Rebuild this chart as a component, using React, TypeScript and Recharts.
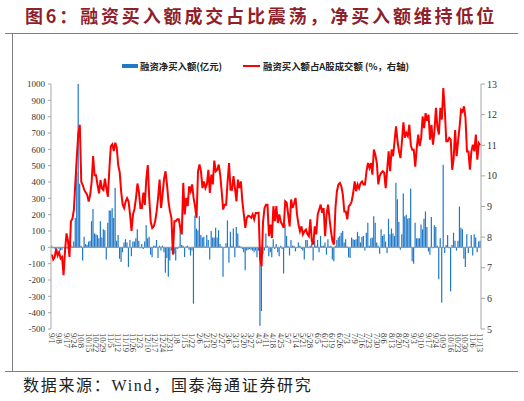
import React from 'react';
import { ComposedChart, Bar, Line, XAxis, YAxis, ReferenceLine } from 'recharts';

const tickLabels = [
  '9/1', '9/8', '9/17', '9/24', '10/8', '10/15', '10/22', '10/29', '11/5', '11/12',
  '11/19', '11/26', '12/3', '12/10', '12/17', '12/24', '12/31', '1/8', '1/15', '1/22',
  '2/6', '2/13', '2/20', '2/27', '3/6', '3/13', '3/20', '3/27', '4/3', '4/11',
  '4/18', '4/25', '5/7', '5/14', '5/21', '5/28', '6/5', '6/12', '6/19', '6/26',
  '7/3', '7/9', '7/16', '7/23', '7/30', '8/6', '8/13', '8/20', '8/27', '9/3',
  '9/10', '9/17', '9/24', '10/9', '10/16', '10/23', '10/30', '11/6', '11/13',
];

// 融资净买入额(亿元), daily
const netBuy = [
  10, -5, -8, -10, -5, -10, -20, -15, -5, -10,
  -5, -8, 5, 15, 5, 35, 180, 460, 1000, 390,
  10, -80, 65, 20, 15, 35, 40, 160, 235, 85,
  80, 75, 55, 160, 60, 110, 105, -75, 150, 225,
  225, 240, 180, 365, 40, 75, -70, -90, -30, 30,
  50, 30, -120, 45, -55, 35, 35, 55, 110, 40,
  -5, 20, -10, 35, 135, 55, 65, -45, -60, 10,
  10, 45, -65, 10, -20, 10, -30, -155, -65, -180,
  -80, -20, -20, -40, -80, -10, -5, 110, 15, 10,
  -60, 5, 10, -15, -50, -20, -345, 195, 115, 105,
  190, 75, 60, 65, 5, 75, 45, -75, 100, 60,
  60, 120, 60, 105, 20, 5, -180, -5, 25, 165,
  -95, 95, 10, 115, -60, 125, 85, 10, 5, -10,
  -30, -140, -20, -15, -10, -15, -20, -30, -20, -60,
  -20, -480, -390, -40, -20, 85, 10, -55, -30, -60,
  50, -10, 20, -30, -55, 10, -10, -160, 140, 70,
  10, -50, 45, 10, 10, -25, -5, 30, 10, -10,
  -20, -75, 45, 45, -5, 10, 25, -80, 40, 10,
  45, -30, 70, 10, 10, 30, -45, 50, 5, 10,
  -75, -85, 10, 45, 60, 70, 90, 100, 30, 50,
  5, -60, -65, 60, 50, 45, 50, 95, 70, 30,
  65, 70, -20, 90, 150, 10, 55, 60, 190, 150,
  30, 10, -40, 110, 70, 80, 35, -35, 175, 80,
  115, 85, 70, 395, 295, 155, -15, 80, 330, 190,
  200, 175, 180, 360, -85, -100, 150, 55, 55, 55,
  140, 110, 175, 220, 125, -25, -45, 185, -5, 135,
  125, 10, -195, 55, -340, 505, -35, 15, 75, -5,
  -270, 15, 90, 40, -20, 40, 250, 120, 110, -70,
  -120, 80, -35, 5, 75, -50, 80, 60, -30, 35, 40,
];

// 融资买入额占A股成交额（%，右轴）
const ratio = [
  7.43, 7.27, 7.35, 7.62, 7.40, 7.51, 7.30, 7.35, 6.76, 7.56,
  8.12, 7.88, 7.35, 8.52, 8.6, 8.9, 9.8, 10.65, 11.4, 11.67,
  9.8, 9.7, 9.54, 9.46, 9.38, 9.16, 9.38, 9.8, 10.65, 10.02,
  10.02, 9.7, 9.43, 9.86, 9.59, 9.54, 9.91, 9.59, 9.32, 10.23,
  10.97, 11.03, 10.81, 11.08, 10.92, 10.34, 10.12, 9.48, 9.06, 8.95,
  9.16, 9.27, 9.16, 8.74, 8.2, 8.74, 8.92, 9.27, 9.75, 9.48,
  8.95, 8.95, 9.45, 9.05, 9.9, 10.35, 9.25, 8.5, 8.3, 8.35,
  8.52, 8.84, 9.3, 9.88, 8.95, 9.39, 9.9, 10.15, 9.72, 9.17,
  8.84, 8.63, 7.43, 8.52, 8.52, 8.58, 8.58, 8.3, 8.09, 9.77,
  8.74, 9.28, 9.01, 9.66, 9.5, 9.72, 9.28, 9.0, 8.63, 10.15,
  10.37, 10.15, 9.6, 9.82, 9.6, 9.72, 10.2, 9.44, 10.04, 9.72,
  10.5, 10.15, 10.2, 10.37, 10.04, 9.5, 8.9, 9.06, 9.06, 9.8,
  10.42, 9.55, 9.55, 9.99, 9.6, 9.17, 9.88, 9.6, 9.82, 9.17,
  8.74, 8.3, 8.63, 8.7, 8.68, 8.63, 8.74, 8.58, 8.79, 8.79,
  8.8, 7.3, 7.05, 8.5, 8.95, 9.06, 9.06, 8.03, 8.41, 7.97,
  9.01, 8.52, 9.01, 8.46, 8.74, 8.5, 8.41, 8.3, 9.17, 9.12,
  8.74, 8.35, 9.23, 8.95, 9.1, 9.28, 8.74, 8.41, 8.19, 8.35,
  8.09, 8.19, 8.25, 8.1, 8.03, 8.58, 7.87, 7.76, 8.35, 8.09,
  8.74, 8.9, 9.06, 8.79, 8.95, 8.03, 8.74, 9.06, 8.6, 8.19,
  7.87, 7.76, 8.95, 9.5, 9.72, 9.77, 9.66, 9.39, 8.84, 8.84,
  8.58, 9.01, 9.06, 9.17, 9.44, 9.82, 9.5, 9.72, 9.6, 9.77,
  9.82, 9.72, 9.72, 10.15, 10.42, 10.26, 10.42, 10.04, 10.86, 10.69,
  10.42, 9.72, 10.0, 10.1, 10.15, 10.1, 9.6, 10.2, 10.8, 10.15,
  10.86, 10.64, 11.13, 11.62, 11.13, 10.8, 10.58, 11.13, 11.75, 11.25,
  11.4, 11.3, 11.67, 11.0, 10.85, 10.85, 10.3, 10.9, 11.35, 10.97,
  11.24, 11.94, 11.56, 12.05, 11.8, 12.0, 11.18, 11.67, 11.02, 11.46,
  12.22, 11.6, 11.35, 12.22, 11.84, 12.87, 12.16, 11.13, 11.13, 11.24,
  11.18, 10.2, 10.58, 11.5, 10.64, 11.13, 11.6, 12.16, 12.1, 12.27,
  11.89, 10.8, 10.8, 10.2, 10.8, 11.02, 10.8, 11.35, 10.53, 11.07, 11.0,
];

const leftTicks = [-500, -400, -300, -200, -100, 0, 100, 200, 300, 400, 500, 600, 700, 800, 900, 1000];
const rightTicks = [5, 6, 7, 8, 9, 10, 11, 12, 13];

const data = netBuy.map((v, i) => ({ i, netBuy: v, ratio: ratio[i] }));

const SERIF = "'Liberation Serif', 'Times New Roman', serif";
const CJK = "'Noto Sans CJK SC', sans-serif";

const XTick = (props: any) => {
  const { x, y, payload } = props;
  const label = tickLabels[Math.round(Number(payload.value) / 5)] ?? '';
  return (
    <text
      x={x}
      y={y}
      transform={`rotate(90, ${x}, ${y})`}
      textAnchor="start"
      dominantBaseline="central"
      fontSize={8.5}
      fontFamily={SERIF}
      fill="#333"
    >
      {label}
    </text>
  );
};

export default function App() {
  const axisColor = '#A6A6A6';
  return (
    <div style={{ position: 'absolute', left: 0, top: 0, width: 524, height: 401, background: '#fff', overflow: 'hidden' }}>
      <div
        style={{
          position: 'absolute', left: 25, top: 4, fontFamily: CJK, fontWeight: 700,
          fontSize: 18, letterSpacing: 2.85, color: '#8E1F2B', whiteSpace: 'nowrap', lineHeight: '22px',
        }}
      >
        图6：融资买入额成交占比震荡，净买入额维持低位
      </div>
      <div style={{ position: 'absolute', left: 5, top: 32.5, width: 513, height: 1.5, background: '#808080' }} />
      <div style={{ position: 'absolute', left: 11.5, top: 33, width: 1.5, height: 338, background: '#808080' }} />
      <div style={{ position: 'absolute', left: 5, top: 370.5, width: 513, height: 1.5, background: '#808080' }} />

      <div style={{ position: 'absolute', left: 122, top: 64, width: 16, height: 4, background: '#1F78C8' }} />
      <div style={{ position: 'absolute', left: 140, top: 59, fontFamily: CJK, fontWeight: 700, fontSize: 9.4, lineHeight: '14px', color: '#222', whiteSpace: 'nowrap' }}>
        融资净买入额(亿元)
      </div>
      <div style={{ position: 'absolute', left: 243, top: 65, width: 17, height: 2, background: '#FF0000' }} />
      <div style={{ position: 'absolute', left: 263, top: 59, fontFamily: CJK, fontWeight: 700, fontSize: 9.4, lineHeight: '14px', color: '#222', whiteSpace: 'nowrap' }}>
        融资买入额占A股成交额 (%，右轴)
      </div>

      <div style={{ position: 'absolute', left: 0, top: 0 }}>
        <ComposedChart width={524} height={401} data={data} margin={{ top: 84, right: 0, left: 0, bottom: 42 }}>
          <XAxis
            dataKey="i"
            interval={4}
            tick={<XTick />}
            tickLine={false}
            axisLine={false}
            tickSize={0}
            tickMargin={4}
            height={30}
          />
          <YAxis
            yAxisId="left"
            domain={[-500, 1000]}
            ticks={leftTicks}
            interval={0}
            width={51}
            tick={{ fontSize: 9, fontFamily: SERIF, fill: '#333' }}
            axisLine={{ stroke: axisColor }}
            tickLine={{ stroke: axisColor }}
            tickSize={3}
            tickMargin={3}
          />
          <YAxis
            yAxisId="right"
            orientation="right"
            domain={[5, 13]}
            ticks={rightTicks}
            interval={0}
            width={43}
            tick={{ fontSize: 10, fontFamily: SERIF, fill: '#333' }}
            axisLine={{ stroke: axisColor }}
            tickLine={{ stroke: axisColor }}
            tickSize={4}
            tickMargin={2}
          />
          <Bar yAxisId="left" dataKey="netBuy" fill="#1F78C8" barSize={1.2} isAnimationActive={false} />
          <ReferenceLine yAxisId="left" y={0} stroke="#999" strokeWidth={1.2} />
          <Line
            yAxisId="right"
            dataKey="ratio"
            type="linear"
            stroke="#FF0000"
            strokeWidth={2}
            dot={false}
            activeDot={false}
            isAnimationActive={false}
          />
        </ComposedChart>
      </div>

      <div
        style={{
          position: 'absolute', left: 23, top: 376, fontFamily: "'Liberation Serif', 'Noto Sans CJK SC', serif",
          fontSize: 16, letterSpacing: 1.7, color: '#222', whiteSpace: 'nowrap', lineHeight: '20px',
        }}
      >
        数据来源：Wind，国泰海通证券研究
      </div>
    </div>
  );
}
